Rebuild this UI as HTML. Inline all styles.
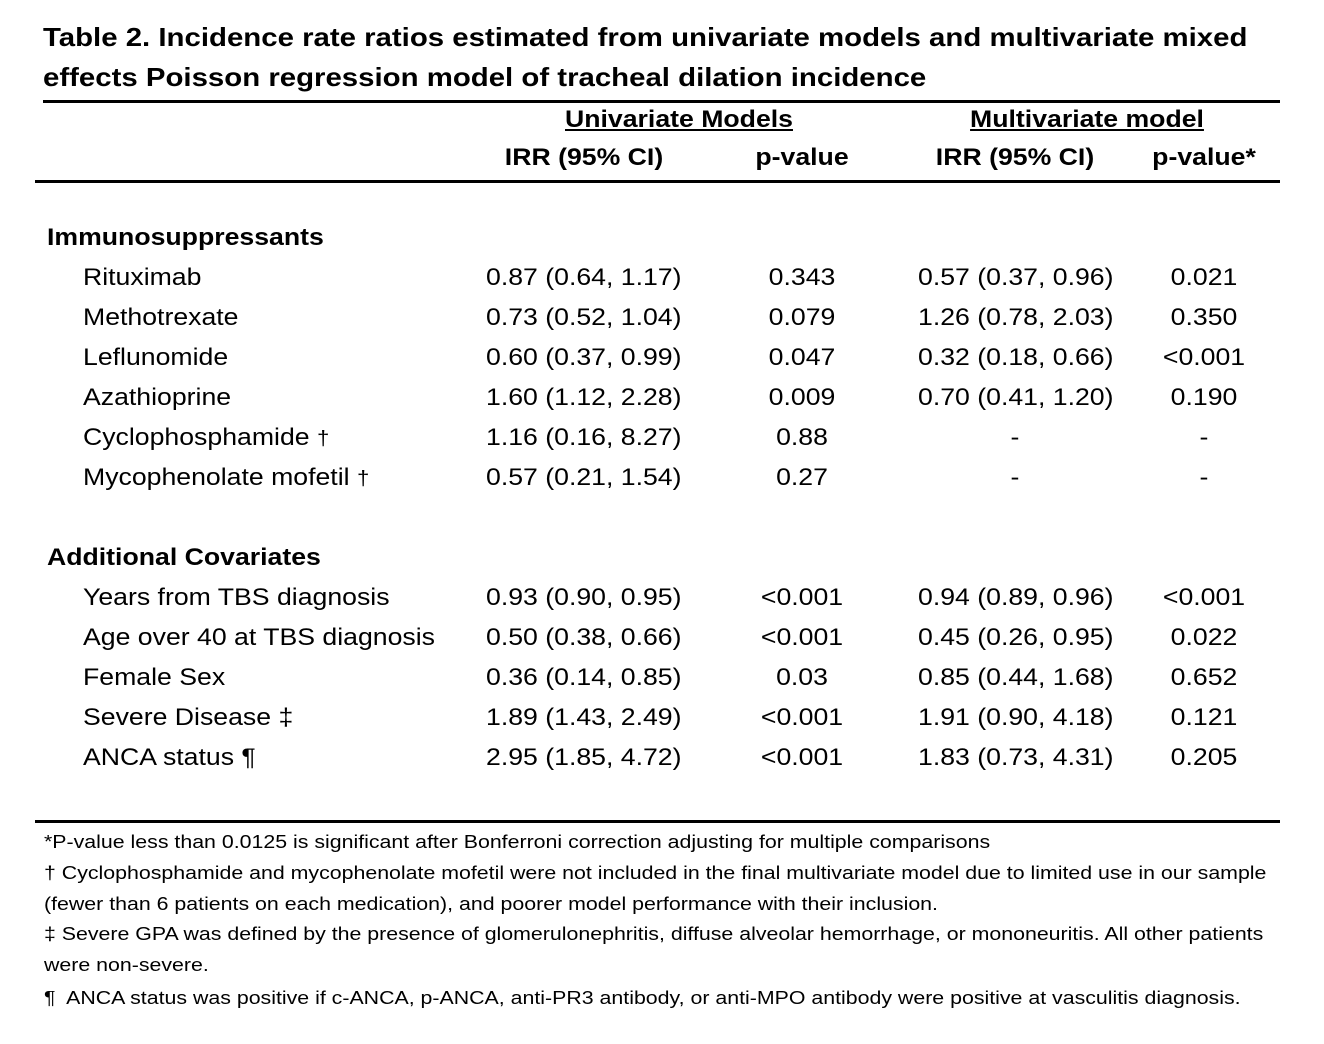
<!DOCTYPE html>
<html><head><meta charset="utf-8"><style>
body{margin:0;width:1324px;height:1044px;background:#fff;position:relative;font-family:"Liberation Sans",Arial,sans-serif;color:#000;overflow:hidden}
.a{position:absolute;white-space:nowrap;transform-origin:0 0;transform:scaleX(1.11)}
.t{font-weight:bold;font-size:26px;left:43px;transform:scaleX(1.13)}
.r{font-size:24px;line-height:28px}
.c{transform:scaleX(1.11) translateX(-50%)}
.h{font-weight:bold;font-size:24px}
.f{font-size:18px;left:44px;transform:scaleX(1.185)}
.rule{position:absolute;background:#000;height:3px}
</style></head><body>
<div class="a t" style="top:22px">Table 2. Incidence rate ratios estimated from univariate models and multivariate mixed</div>
<div class="a t" style="top:62px">effects Poisson regression model of tracheal dilation incidence</div>
<div class="rule" style="left:43px;width:1237px;top:100px"></div>
<div class="a h c" style="left:679px;top:106px;text-decoration:underline">Univariate Models</div>
<div class="a h c" style="left:1087px;top:106px;text-decoration:underline">Multivariate model</div>
<div class="a h c" style="left:584px;top:144px">IRR (95% CI)</div>
<div class="a h c" style="left:802px;top:144px">p-value</div>
<div class="a h c" style="left:1015px;top:144px">IRR (95% CI)</div>
<div class="a h c" style="left:1204px;top:144px">p-value*</div>
<div class="rule" style="left:35px;width:1245px;top:180px"></div>

<div class="a r h" style="left:47px;top:224px">Immunosuppressants</div>
<div class="a r h" style="left:47px;top:544px">Additional Covariates</div>

<div id="rows"></div>
<script>
var rows=[
[264,"Rituximab","0.87 (0.64, 1.17)","0.343","0.57 (0.37, 0.96)","0.021"],
[304,"Methotrexate","0.73 (0.52, 1.04)","0.079","1.26 (0.78, 2.03)","0.350"],
[344,"Leflunomide","0.60 (0.37, 0.99)","0.047","0.32 (0.18, 0.66)","<0.001"],
[384,"Azathioprine","1.60 (1.12, 2.28)","0.009","0.70 (0.41, 1.20)","0.190"],
[424,"Cyclophosphamide <small>†</small>","1.16 (0.16, 8.27)","0.88","-","-"],
[464,"Mycophenolate mofetil <small>†</small>","0.57 (0.21, 1.54)","0.27","-","-"],
[584,"Years from TBS diagnosis","0.93 (0.90, 0.95)","<0.001","0.94 (0.89, 0.96)","<0.001"],
[624,"Age over 40 at TBS diagnosis","0.50 (0.38, 0.66)","<0.001","0.45 (0.26, 0.95)","0.022"],
[664,"Female Sex","0.36 (0.14, 0.85)","0.03","0.85 (0.44, 1.68)","0.652"],
[704,"Severe Disease ‡","1.89 (1.43, 2.49)","<0.001","1.91 (0.90, 4.18)","0.121"],
[744,"ANCA status ¶","2.95 (1.85, 4.72)","<0.001","1.83 (0.73, 4.31)","0.205"]];
var h="";
rows.forEach(function(r){
var y=r[0];
h+='<div class="a r" style="left:83px;top:'+y+'px">'+r[1]+'</div>';
h+='<div class="a r" style="left:486px;top:'+y+'px">'+r[2].replace(/</g,"&lt;")+'</div>';
h+='<div class="a r c" style="left:802px;top:'+y+'px">'+r[3].replace(/</g,"&lt;")+'</div>';
if(r[4]=="-")h+='<div class="a r c" style="left:1015px;top:'+y+'px">-</div>';
else h+='<div class="a r" style="left:918px;top:'+y+'px">'+r[4]+'</div>';
h+='<div class="a r c" style="left:1204px;top:'+y+'px">'+r[5].replace(/</g,"&lt;")+'</div>';
});
document.getElementById("rows").innerHTML=h;
</script>
<div class="rule" style="left:35px;width:1245px;top:820px"></div>
<div class="a f" style="top:832px">*P-value less than 0.0125 is significant after Bonferroni correction adjusting for multiple comparisons</div>
<div class="a f" style="top:863px">† Cyclophosphamide and mycophenolate mofetil were not included in the final multivariate model due to limited use in our sample</div>
<div class="a f" style="top:894px">(fewer than 6 patients on each medication), and poorer model performance with their inclusion.</div>
<div class="a f" style="top:924px">‡ Severe GPA was defined by the presence of glomerulonephritis, diffuse alveolar hemorrhage, or mononeuritis. All other patients</div>
<div class="a f" style="top:955px">were non-severe.</div>
<div class="a f" style="top:988px">¶&nbsp; ANCA status was positive if c-ANCA, p-ANCA, anti-PR3 antibody, or anti-MPO antibody were positive at vasculitis diagnosis.</div>
</body></html>
